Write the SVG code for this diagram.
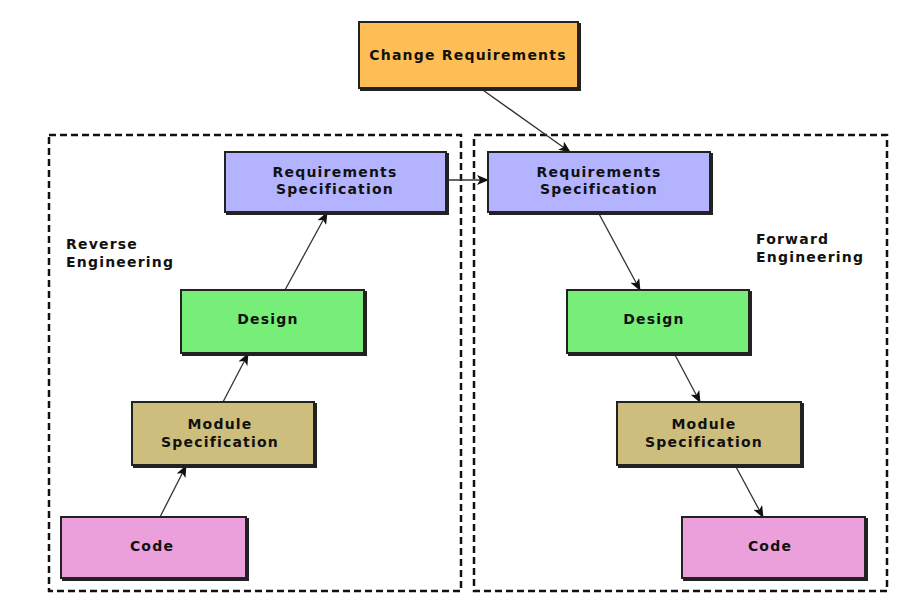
<svg xmlns="http://www.w3.org/2000/svg" width="920" height="607" viewBox="0 0 920 607">
<style>
.n rect{stroke:#222;stroke-width:2}
.sh{fill:#999;stroke:none}
text{font-family:"DejaVu Sans","Liberation Sans",sans-serif;font-weight:bold;font-size:14px;fill:#111;letter-spacing:1.2px}
.t{text-anchor:middle}
.c{stroke:#333;stroke-width:1.3;fill:none;marker-end:url(#ah)}
.d{fill:none;stroke:#111;stroke-width:2.5;stroke-dasharray:7 4}
</style>
<defs>
<marker id="ah" viewBox="0 0 12 10" refX="11" refY="5" markerWidth="12" markerHeight="10" markerUnits="userSpaceOnUse" orient="auto">
<path d="M0,0 L12,5 L0,10 L3,5 Z" fill="#111"/>
</marker>
</defs>
<rect id="reverse-frame" class="d" x="49" y="135" width="412" height="456"/>
<rect id="forward-frame" class="d" x="474" y="135" width="413" height="456"/>
<text x="66" y="249">Reverse</text>
<text x="66" y="267">Engineering</text>
<text x="756" y="244">Forward</text>
<text x="756" y="262">Engineering</text>
<g id="connectors">
<line class="c" x1="480" y1="88" x2="570" y2="152"/>
<line class="c" x1="446" y1="180" x2="488" y2="180"/>
<line class="c" x1="160" y1="517" x2="186" y2="466"/>
<line class="c" x1="223" y1="402" x2="248" y2="354"/>
<line class="c" x1="285" y1="290" x2="327" y2="213"/>
<line class="c" x1="598" y1="212" x2="640" y2="290"/>
<line class="c" x1="674" y1="353" x2="700" y2="402"/>
<line class="c" x1="735" y1="465" x2="763" y2="517"/>
</g>
<g id="change-req" class="n"><rect class="sh" x="361" y="24" width="219" height="66"/><rect x="359" y="22" width="219" height="66" fill="#FFBE55"/><text class="t" x="468" y="60">Change Requirements</text></g>
<g id="l-req" class="n"><rect class="sh" x="227" y="154" width="221" height="60"/><rect x="225" y="152" width="221" height="60" fill="#B3B3FF"/><text class="t" x="335" y="177">Requirements</text><text class="t" x="335" y="194">Specification</text></g>
<g id="r-req" class="n"><rect class="sh" x="490" y="154" width="222" height="60"/><rect x="488" y="152" width="222" height="60" fill="#B3B3FF"/><text class="t" x="599" y="177">Requirements</text><text class="t" x="599" y="194">Specification</text></g>
<g id="l-design" class="n"><rect class="sh" x="183" y="292" width="183" height="63"/><rect x="181" y="290" width="183" height="63" fill="#77EE77"/><text class="t" x="268" y="324">Design</text></g>
<g id="r-design" class="n"><rect class="sh" x="569" y="292" width="182" height="63"/><rect x="567" y="290" width="182" height="63" fill="#77EE77"/><text class="t" x="654" y="324">Design</text></g>
<g id="l-module" class="n"><rect class="sh" x="134" y="404" width="182" height="63"/><rect x="132" y="402" width="182" height="63" fill="#CDBE7D"/><text class="t" x="220" y="429">Module</text><text class="t" x="220" y="447">Specification</text></g>
<g id="r-module" class="n"><rect class="sh" x="619" y="404" width="184" height="63"/><rect x="617" y="402" width="184" height="63" fill="#CDBE7D"/><text class="t" x="704" y="429">Module</text><text class="t" x="704" y="447">Specification</text></g>
<g id="l-code" class="n"><rect class="sh" x="63" y="519" width="185" height="61"/><rect x="61" y="517" width="185" height="61" fill="#EBA0DC"/><text class="t" x="152" y="551">Code</text></g>
<g id="r-code" class="n"><rect class="sh" x="684" y="519" width="183" height="61"/><rect x="682" y="517" width="183" height="61" fill="#EBA0DC"/><text class="t" x="770" y="551">Code</text></g>
</svg>
